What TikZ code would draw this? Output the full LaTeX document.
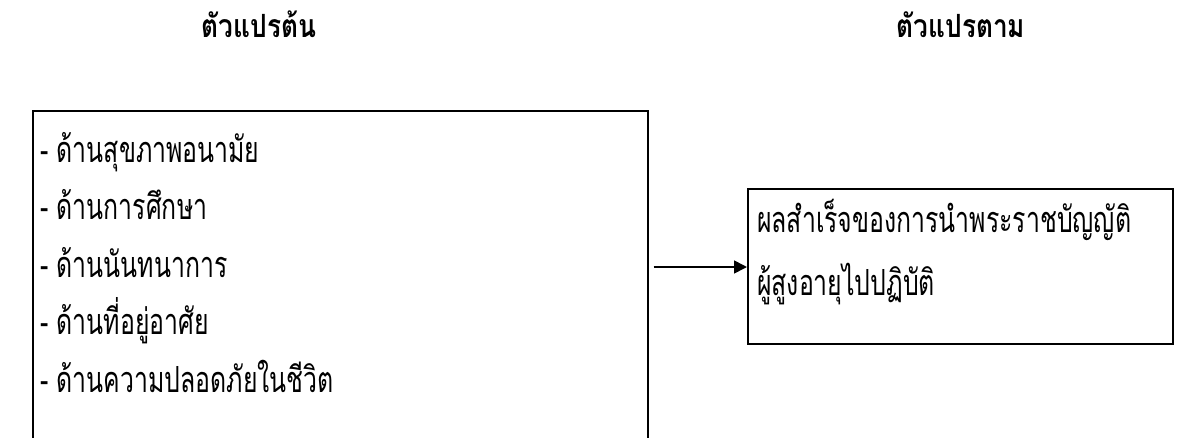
\documentclass[tikz,border=0pt]{standalone}
\usepackage{fontspec}
\newfontfamily\thaibody[Script=Thai,FakeStretch=0.69]{Loma}
\newfontfamily\thaititle[Script=Thai,FakeStretch=0.82]{Loma}
\usetikzlibrary{arrows.meta}
\begin{document}
\begin{tikzpicture}[x=1pt,y=-1pt,
  frame/.style={draw=black,line width=1.7pt,inner sep=0pt,anchor=north west},
  title/.style={font=\thaititle\fontsize{32}{38}\selectfont\bfseries,inner sep=0pt,anchor=base},
  item/.style={font=\thaibody\fontsize{36}{42}\selectfont,inner sep=0pt,anchor=base west},
  conn/.style={line width=1.7pt,-{Triangle[length=13pt,width=13pt]}}]
\useasboundingbox (0,0) rectangle (1200,437);
\clip (0,0) rectangle (1200,437);
\node[title] (t1) at (259,37) {ตัวแปรต้น};
\node[title] (t2) at (961,37) {ตัวแปรตาม};
\node[frame,minimum width=615pt,minimum height=420pt] (L) at (32,110) {};
\node[frame,minimum width=425pt,minimum height=155pt] (R) at (747,188) {};
\node[item] (l1) at (40,162) {- ด้านสุขภาพอนามัย};
\node[item] (l2) at (40,219.5) {- ด้านการศึกษา};
\node[item] (l3) at (40,277) {- ด้านนันทนาการ};
\node[item] (l4) at (40,334.5) {- ด้านที่อยู่อาศัย};
\node[item] (l5) at (40,392) {- ด้านความปลอดภัยในชีวิต};
\node[item] (r1) at (757,232) {ผลสำเร็จของการนำพระราชบัญญัติ};
\node[item] (r2) at (757,295) {ผู้สูงอายุไปปฏิบัติ};
\coordinate (a) at (0,267);
\path (L.east |- a) coordinate (a1);
\draw[conn] ([xshift=5pt]a1) -- (R.west |- a);
\end{tikzpicture}
\end{document}
